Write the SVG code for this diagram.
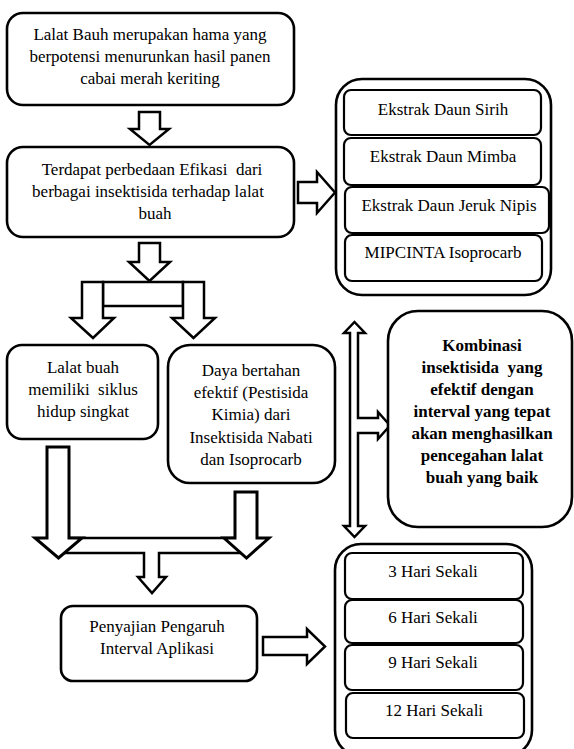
<svg xmlns="http://www.w3.org/2000/svg" width="574" height="749" viewBox="0 0 574 749">
<style>
.box{fill:#fff;stroke:#000;stroke-width:2.6}
.inner{fill:#fff;stroke:#000;stroke-width:2.2}
.arr{fill:#fff;stroke:#000;stroke-width:2.5;stroke-linejoin:miter}
</style>
<rect width="574" height="749" fill="#fff"/>
<g id="connectors">
<polygon class="arr" points="139,112 160,112 160,129 169,129 149.5,145 130,129 139,129"/>
<polygon class="arr" points="298,182 317,182 317,172 335,192.5 317,213 317,203 298,203"/>
<polygon class="arr" points="139,243 160,243 160,262 170,262 149.5,281 129,262 139,262"/>
<rect class="arr" x="103" y="282" width="80" height="24"/>
<polygon class="arr" points="82,282 103,282 103,318 114,318 93,338 71,318 82,318"/>
<polygon class="arr" points="183,282 204,282 204,318 215,318 193.5,338 172,318 183,318"/>
<polygon class="arr" points="354.5,322 365,333 358,333 358,418 378,418 378,412 390,425.5 378,439 378,433 358,433 358,526 365,526 354.5,537 344,526 350,526 350,333 344,333"/>
<polygon class="arr" points="60,538 244,538 244,553 159,553 159,577 166,577 152,593 138,577 144,577 144,553 60,553"/>
<polygon class="arr" points="47,447 69,447 69,538 82,538 58.5,558 35,538 47,538" style="stroke-width:3"/>
<polygon class="arr" points="235,492 257,492 257,538 269,538 246.5,558 224,538 235,538" style="stroke-width:3"/>
<polygon class="arr" points="263,637 307,637 307,629 325,646.5 307,664 307,655 263,655"/>
</g>
<g font-family="Liberation Serif, Times New Roman, serif" font-size="17" text-anchor="middle" fill="#000">
<g id="n1">
<rect class="box" x="7" y="13" width="287" height="92" rx="16"/>
<text x="150" y="40">Lalat Bauh merupakan hama yang</text>
<text x="150" y="62">berpotensi menurunkan hasil panen</text>
<text x="150" y="84">cabai merah keriting</text>
</g>
<g id="n2">
<rect class="box" x="7" y="147" width="287" height="90" rx="16"/>
<text x="152" y="175" xml:space="preserve">Terdapat perbedaan Efikasi  dari</text>
<text x="148" y="197">berbagai insektisida terhadap lalat</text>
<text x="155" y="219">buah</text>
</g>
<g id="n3">
<rect class="box" x="336" y="79" width="215" height="216" rx="26"/>
<rect class="inner" x="344" y="90" width="197" height="45" rx="7"/>
<text x="443" y="115">Ekstrak Daun Sirih</text>
<rect class="inner" x="344" y="138" width="197" height="47" rx="7"/>
<text x="443" y="162">Ekstrak Daun Mimba</text>
<rect class="inner" x="345" y="187" width="204" height="46" rx="7"/>
<text x="449" y="211">Ekstrak Daun Jeruk Nipis</text>
<rect class="inner" x="345" y="235" width="197" height="46" rx="7"/>
<text x="443" y="258">MIPCINTA Isoprocarb</text>
</g>
<g id="n4">
<rect class="box" x="7" y="345" width="151" height="94" rx="15"/>
<text x="83" y="373">Lalat buah</text>
<text x="83" y="395" xml:space="preserve">memiliki  siklus</text>
<text x="83" y="417">hidup singkat</text>
</g>
<g id="n5">
<rect class="box" x="168" y="345" width="167" height="138" rx="22"/>
<text x="251" y="376">Daya bertahan</text>
<text x="251" y="398">efektif (Pestisida</text>
<text x="251" y="420">Kimia) dari</text>
<text x="251" y="443">Insektisida Nabati</text>
<text x="251" y="465">dan Isoprocarb</text>
</g>
<g id="n6" font-weight="bold">
<rect class="box" x="388" y="311" width="184" height="216" rx="30"/>
<text x="482" y="351">Kombinasi</text>
<text x="482" y="373" xml:space="preserve">insektisida  yang</text>
<text x="482" y="395">efektif dengan</text>
<text x="482" y="417">interval yang tepat</text>
<text x="482" y="439">akan menghasilkan</text>
<text x="482" y="461">pencegahan lalat</text>
<text x="482" y="483">buah yang baik</text>
</g>
<g id="n7">
<rect class="box" x="61" y="606" width="196" height="75" rx="12"/>
<text x="157" y="632">Penyajian Pengaruh</text>
<text x="157" y="654">Interval Aplikasi</text>
</g>
<g id="n8">
<rect class="box" x="335" y="544" width="197" height="212" rx="26"/>
<rect class="inner" x="345" y="553" width="178" height="46" rx="7"/>
<text x="433" y="577">3 Hari Sekali</text>
<rect class="inner" x="345" y="600" width="178" height="43" rx="7"/>
<text x="433" y="623">6 Hari Sekali</text>
<rect class="inner" x="345" y="645" width="178" height="45" rx="7"/>
<text x="433" y="668">9 Hari Sekali</text>
<rect class="inner" x="346" y="693" width="178" height="45" rx="7"/>
<text x="434" y="716">12 Hari Sekali</text>
</g>
</g>
</svg>
